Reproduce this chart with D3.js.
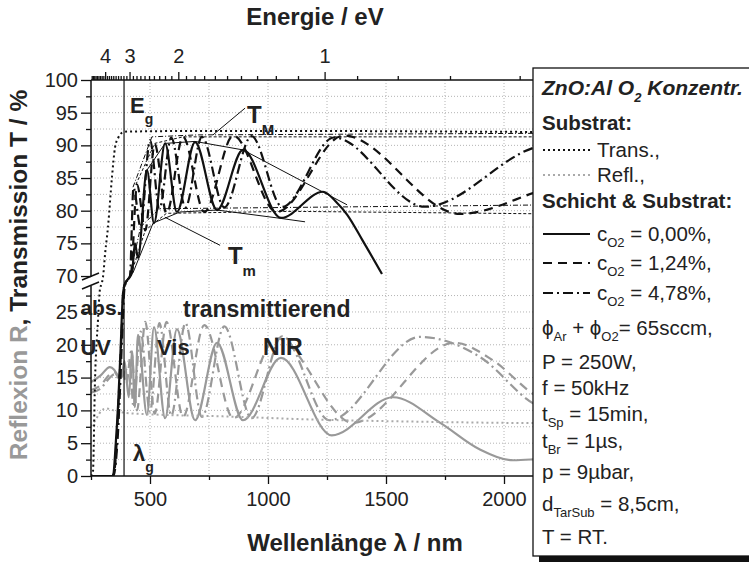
<!DOCTYPE html>
<html>
<head>
<meta charset="utf-8">
<script src="https://cdn.jsdelivr.net/npm/d3@7"></script>
<style>
  body { margin: 0; background: #fff; }
  svg { display: block; font-family: "Liberation Sans", Arial, sans-serif; }
  text { white-space: pre; }
</style>
</head>
<body>
<svg id="chart" width="749" height="564"></svg>
<script>
(function () {
  'use strict';

  // ---- data: [wavelength nm, percent] ----
  const substrateT = [[250, 0], [258, 0.5], [267, 14.6], [280, 24], [288, 28.5], [295, 50], [301, 69.9],
    [310, 73.5], [322, 77.5], [339, 85.2], [352, 89.7], [366, 91.2], [381, 91.9], [403, 92.1],
    [700, 92.2], [1200, 92.2], [1800, 92.1], [2500, 92.0]];
  const substrateR = [[250, 7.6], [265, 8.3], [280, 9.2], [295, 10.0], [315, 10.3], [345, 10.0],
    [400, 9.6], [500, 9.4], [800, 9.1], [1200, 8.6], [1600, 8.3], [2000, 8.1], [2500, 8.0]];

  // c_O2 = 0,00 %
  const transT0 = [[250, 0], [343, 0], [355, 5], [365, 11], [375, 19], [386, 28], [396, 55], [406, 69],
    [424, 70.5], [436, 75], [449, 72.8], [487, 86.2], [517, 78.1], [564, 90.3], [614, 79.8],
    [691, 90.5], [784, 80.1], [894, 89.3], [1055, 78.9], [1233, 82.9], [1290, 81.3],
    [1335, 79.4], [1400, 75.5], [1483, 70.3]];
  // c_O2 = 1,24 %
  const transT1 = [[250, 0], [340, 0], [350, 1], [360, 6], [370, 14], [380, 22], [388, 29], [398, 58],
    [408, 69], [420, 70.5], [445, 84], [480, 77], [520, 90.2], [570, 79.6], [640, 91.3],
    [730, 79.8], [853, 91.5], [1036, 79.8], [1320, 91.5], [1814, 79.5], [2123, 82.7], [2500, 88.5]];
  // c_O2 = 4,78 %
  const transT2 = [[250, 0], [345, 0], [355, 2], [365, 7], [375, 15], [385, 24], [392, 32], [402, 62],
    [415, 70], [430, 83.5], [460, 77.5], [500, 90.8], [540, 80.3], [590, 91.2], [650, 80.5],
    [720, 91.3], [815, 80.5], [930, 91.4], [1060, 80.6], [1280, 91.2], [1665, 80.6],
    [2123, 89.6], [2380, 91.5], [2500, 91.2]];

  const reflR0 = [[250, 14.3], [290, 15.3], [330, 16.6], [348, 16.2], [364, 15.3], [378, 15],
    [392, 17.5], [410, 12], [424, 19], [436, 10.5], [449, 21.5], [487, 9.3], [517, 22.7],
    [564, 8.8], [614, 22.4], [691, 8.5], [784, 20.3], [894, 8.5], [1055, 18], [1270, 6.2],
    [1530, 12], [1730, 8.1], [1900, 4], [2040, 2.4], [2150, 2.6], [2500, 3.2]];
  const reflR1 = [[250, 13.1], [290, 13.8], [330, 15.5], [350, 15.8], [368, 15], [385, 16],
    [400, 14], [420, 19], [445, 10], [480, 23.5], [520, 9.5], [570, 23.5], [640, 9], [730, 23],
    [853, 8.8], [1036, 21], [1360, 8.1], [1790, 20.3], [1950, 17.7], [2123, 12.5], [2300, 9],
    [2500, 8.3]];
  const reflR2 = [[250, 12.7], [290, 13.3], [330, 15], [350, 15.5], [370, 14.8], [388, 15.5],
    [415, 17], [430, 10.5], [460, 22], [500, 9.8], [540, 23.3], [590, 9.2], [650, 23.3],
    [720, 9], [815, 22.8], [930, 8.8], [1060, 21.3], [1260, 8.5], [1644, 21.2], [1900, 18.1],
    [2123, 11.1], [2350, 8.8], [2500, 9]];

  // envelope lines T_M / T_m
  const envMax0 = [[487, 86.2], [564, 90.3], [691, 90.6], [894, 89.3], [1335, 80.9]];
  const envMin0 = [[428, 70.5], [513, 78.1], [627, 79.8], [784, 80.1], [1038, 78.9], [1157, 78.3]];
  const envMax1 = [[440, 84], [520, 90.3], [640, 91.3], [2500, 91.3]];
  const envMin1 = [[420, 70.3], [480, 77], [570, 79.6], [1100, 79.9], [2500, 79.4]];
  const envMax2 = [[428, 83.6], [508, 91.3], [700, 91.6], [2500, 91.9]];
  const envMin2 = [[415, 70], [460, 77.5], [540, 80.3], [2500, 81.0]];

  const leaderTM = [[767, 91.6], [903, 95.7]];
  const leaderTm = [[563, 79.0], [797, 74.7]];
  const bandGap = 390;

  // ticks
  const xTicksMajor = [500, 1000, 1500, 2000];
  const xTicksMinor = [250, 750, 1250, 1750];
  const yTicksMajor = [0, 5, 10, 15, 20, 25, 70, 75, 80, 85, 90, 95, 100];
  const yTicksMinor = [2.5, 7.5, 12.5, 17.5, 22.5, 27.5, 72.5, 77.5, 82.5, 87.5, 92.5, 97.5];
  const energyMajor = [1, 2, 3, 4];
  const gridX = [500, 750, 1000, 1250, 1500, 1750, 2000];
  const gridY = [2.5, 5, 7.5, 10, 12.5, 15, 17.5, 20, 22.5, 25, 27.5,
    72.5, 75, 77.5, 80, 82.5, 85, 87.5, 90, 92.5, 95, 97.5];

  // annotations [text, subscript, wavelength, percent, font size]
  const notes = [
    ["E", "g", 415, 94.9, 22],
    ["T", "M", 911, 93.4, 24],
    ["T", "m", 830, 71.8, 24],
    ["abs.", "", 205, 24.5, 21],
    ["UV", "", 205, 18.4, 22],
    ["Vis", "", 530, 18.4, 22],
    ["NIR", "", 979, 18.4, 23],
    ["transmittierend", "", 640, 24.2, 23],
    ["\u03bb", "g", 428, 2.3, 22]
  ];

  const legendLabels = [
    ["ZnO:Al O", "_2", " Konzentr."],
    ["Substrat:"],
    ["Trans.,"],
    ["Refl.,"],
    ["Schicht & Substrat:"],
    ["c", "_O2", " = 0,00%,"],
    ["c", "_O2", " = 1,24%,"],
    ["c", "_O2", " = 4,78%,"],
    ["\u03d5", "_Ar", " + \u03d5", "_O2", "= 65sccm,"],
    ["P = 250W,"],
    ["f = 50kHz"],
    ["t", "_Sp", " = 15min,"],
    ["t", "_Br", " = 1\u00b5s,"],
    ["p = 9\u00b5bar,"],
    ["d", "_TarSub", " = 8,5cm,"],
    ["T = RT."]
  ];
  const legendKeys = [null, null, "subT", "subR", null, "c0", "c1", "c2",
    null, null, null, null, null, null, null, null];
  const legendRowY = [95, 130, 157, 182, 208, 241, 270, 300, 335, 369, 395, 421, 448, 479, 511, 544];

  // ---- styles ----
  const gray = "#999";
  const styles = {
    subT: { color: "#111", dash: "2,3", width: 2 },
    subR: { color: "#aaa", dash: "2,3", width: 2 },
    c0: { color: "#111", dash: null, width: 2.2 },
    c1: { color: "#111", dash: "9,6", width: 2.2 },
    c2: { color: "#111", dash: "10,4,2,4", width: 2.2 }
  };

  // ---- scales ----
  const svg = d3.select("#chart");
  const x = d3.scaleLinear().domain([250, 2500]).range([91, 622]);
  const y = d3.scaleLinear().domain([0, 28.5, 69.5, 100]).range([476, 289, 279.3, 80]);
  const top = 80, bottom = 476, left = 91, plotRight = 533;

  const smooth = d3.line().x(d => x(d[0])).y(d => y(d[1])).curve(d3.curveMonotoneX);
  const straight = d3.line().x(d => x(d[0])).y(d => y(d[1]));

  svg.append("defs").append("clipPath").attr("id", "plotclip")
    .append("rect").attr("x", left).attr("y", top - 2)
    .attr("width", plotRight - left).attr("height", bottom - top + 2);

  // grid
  const grid = svg.append("g").attr("stroke", "#b4b4b4").attr("stroke-width", 1)
    .attr("stroke-dasharray", "1,2");
  grid.selectAll(".gx").data(gridX).join("line")
    .attr("x1", d => x(d)).attr("x2", d => x(d)).attr("y1", top).attr("y2", bottom);
  grid.selectAll(".gy").data(gridY).join("line")
    .attr("x1", left).attr("x2", plotRight).attr("y1", d => y(d)).attr("y2", d => y(d));

  const plot = svg.append("g").attr("clip-path", "url(#plotclip)").attr("fill", "none");

  function drawCurve(data, st, color, gen) {
    plot.append("path")
      .attr("d", (gen || smooth)(data))
      .attr("stroke", color || st.color)
      .attr("stroke-width", st.width)
      .attr("stroke-dasharray", st.dash)
      .attr("stroke-linejoin", "round");
  }

  // reflection (gray)
  drawCurve(reflR2, styles.c2, gray);
  drawCurve(reflR1, styles.c1, gray);
  drawCurve(reflR0, styles.c0, gray);
  drawCurve(substrateR, styles.subR);

  // envelopes
  const thin = [
    [envMax2, "5,2,1,2"], [envMin2, "5,2,1,2"],
    [envMax1, "3,2"], [envMin1, "3,2"],
    [envMax0, null], [envMin0, null]
  ];
  thin.forEach(([data, dash]) => drawCurve(data, { width: 1, dash }, "#111", straight));

  // transmission (black)
  drawCurve(substrateT, styles.subT);
  drawCurve(transT2, styles.c2);
  drawCurve(transT1, styles.c1);
  drawCurve(transT0, styles.c0);

  // leaders and band-gap line
  [leaderTM, leaderTm].forEach(l => drawCurve(l, { width: 1 }, "#111", straight));
  svg.append("line")
    .attr("x1", x(bandGap)).attr("x2", x(bandGap)).attr("y1", top).attr("y2", bottom)
    .attr("stroke", "#111").attr("stroke-width", 1.2);

  // ---- axes ----
  function styleAxis(g) {
    g.select(".domain").remove();
    g.selectAll("line").attr("stroke", "#111").attr("stroke-width", 1.3);
    g.selectAll("text").attr("font-size", 20).attr("fill", "#222")
      .attr("font-family", "'Liberation Sans', Arial, sans-serif");
  }

  svg.append("g").attr("transform", `translate(0,${bottom})`)
    .call(d3.axisBottom(x).tickValues(xTicksMajor).tickSize(8).tickPadding(8).tickFormat(d3.format("d")))
    .call(styleAxis);
  svg.append("g").attr("transform", `translate(0,${bottom})`)
    .call(d3.axisBottom(x).tickValues(xTicksMinor).tickSize(4).tickFormat(""))
    .call(styleAxis);

  svg.append("g").attr("transform", `translate(${left},0)`)
    .call(d3.axisLeft(y).tickValues(yTicksMajor).tickSize(10).tickPadding(3).tickFormat(d3.format("d")))
    .call(styleAxis);
  svg.append("g").attr("transform", `translate(${left},0)`)
    .call(d3.axisLeft(y).tickValues(yTicksMinor).tickSize(5).tickFormat(""))
    .call(styleAxis);

  const eToNm = e => 1239.84 / e;
  const energyMinor = d3.range(5, 50).map(d => d / 10)
    .filter(e => e % 1 !== 0 && eToNm(e) >= 250 && eToNm(e) <= 2120);
  svg.append("g").attr("transform", `translate(0,${top})`)
    .call(d3.axisTop(x).tickValues(energyMajor.map(eToNm)).tickSize(8).tickPadding(9)
      .tickFormat(d => Math.round(1239.84 / d)))
    .call(styleAxis);
  svg.append("g").attr("transform", `translate(0,${top})`)
    .call(d3.axisTop(x).tickValues(energyMinor.map(eToNm)).tickSize(4).tickFormat(""))
    .call(styleAxis);

  const axisLines = svg.append("g").attr("stroke", "#111").attr("stroke-width", 1.5);
  axisLines.append("line").attr("x1", left).attr("x2", plotRight).attr("y1", top).attr("y2", top);
  axisLines.append("line").attr("x1", left).attr("x2", plotRight).attr("y1", bottom).attr("y2", bottom);
  axisLines.append("line").attr("x1", left).attr("x2", left).attr("y1", top).attr("y2", 277);
  axisLines.append("line").attr("x1", left).attr("x2", left).attr("y1", 286).attr("y2", bottom);
  axisLines.append("line").attr("x1", 82).attr("x2", 99).attr("y1", 280).attr("y2", 273);
  axisLines.append("line").attr("x1", 82).attr("x2", 99).attr("y1", 289).attr("y2", 282);

  // titles
  svg.append("text").attr("x", 315).attr("y", 25).attr("text-anchor", "middle")
    .attr("font-size", 24).attr("font-weight", "bold").attr("fill", "#222").text("Energie / eV");
  svg.append("text").attr("x", 355).attr("y", 551).attr("text-anchor", "middle")
    .attr("font-size", 24).attr("font-weight", "bold").attr("fill", "#222")
    .text("Wellenlänge \u03bb / nm");
  const yTitle = svg.append("text").attr("transform", "translate(27,275) rotate(-90)")
    .attr("text-anchor", "middle").attr("font-size", 24.5).attr("font-weight", "bold");
  yTitle.append("tspan").attr("fill", gray).text("Reflexion R");
  yTitle.append("tspan").attr("fill", "#222").text(", Transmission T / %");

  // annotations
  notes.forEach(([t, sub, wl, v, size]) => {
    const txt = svg.append("text").attr("x", x(wl)).attr("y", y(v))
      .attr("font-size", size).attr("font-weight", "bold").attr("fill", "#222");
    txt.append("tspan").text(t);
    if (sub) {
      txt.append("tspan").attr("font-size", Math.round(size * 0.62)).attr("dy", size * 0.5).text(sub);
    }
  });

  // ---- legend ----
  const lx = 533, ly = 68, lw = 240, lh = 488;
  svg.append("rect").attr("x", lx + 6).attr("y", ly + 6).attr("width", lw).attr("height", lh)
    .attr("fill", "#111");
  svg.append("rect").attr("x", lx).attr("y", ly).attr("width", lw).attr("height", lh)
    .attr("fill", "#fff").attr("stroke", "#111").attr("stroke-width", 1.3);

  function richText(sel, parts, subSize, subShift) {
    let cur = 0;
    parts.forEach(p => {
      const isSub = p.startsWith("_");
      const target = isSub ? subShift : 0;
      sel.append("tspan")
        .attr("font-size", isSub ? subSize : null)
        .attr("dy", target - cur)
        .text(isSub ? p.slice(1) : p);
      cur = target;
    });
  }

  const legend = svg.append("g").attr("fill", "#222");
  legendLabels.forEach((parts, i) => {
    const key = legendKeys[i];
    const isHeader = i === 0 || i === 1 || i === 4;
    const yy = legendRowY[i];
    const tx = key ? 597 : 542;
    const t = legend.append("text").attr("x", tx).attr("y", yy)
      .attr("font-size", i === 0 ? 21 : 20.5)
      .attr("font-weight", isHeader ? "bold" : null)
      .attr("font-style", i === 0 ? "italic" : null);
    richText(t, parts, 13, i === 0 ? 7 : 6);
    if (key) {
      const st = styles[key];
      legend.append("line").attr("x1", 543).attr("x2", 590)
        .attr("y1", yy - 7).attr("y2", yy - 7)
        .attr("stroke", st.color).attr("stroke-width", st.width)
        .attr("stroke-dasharray", st.dash);
    }
  });
}());
</script>
</body>
</html>
